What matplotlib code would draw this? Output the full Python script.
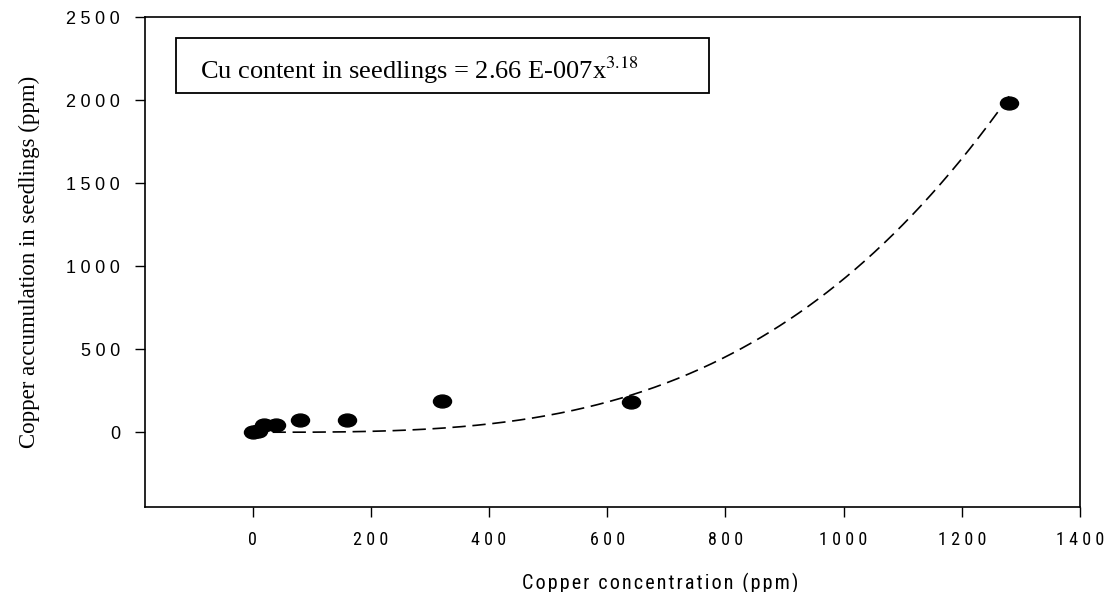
import matplotlib
matplotlib.use("Agg")
import matplotlib.pyplot as plt
import numpy as np
from matplotlib.path import Path
from matplotlib.transforms import Affine2D
from matplotlib.patches import Rectangle
from matplotlib.ticker import FuncFormatter

# Data
cu_conc = [0, 10, 20, 40, 80, 160, 320, 640, 1280]
cu_seedlings = [0, 5, 45, 45, 75, 75, 188, 182, 1980]
fit_coef = 2.66e-7
fit_exp = 3.18
x_ticks = [0, 200, 400, 600, 800, 1000, 1200, 1400]
y_ticks = [0, 500, 1000, 1500, 2000, 2500]

SP = '\u2005'   # letter-spacing (tracking) used in the original typesetting
def spaced(s, sep=SP):
    return sep.join(s)

NARROW = ['Liberation Sans Narrow', 'Roboto Condensed', 'Open Sans Condensed',
          'Liberation Sans', 'DejaVu Sans']

fig = plt.figure(figsize=(11.11, 5.92), dpi=100)
ax = fig.add_axes([145/1111, 85/592, (1080-145)/1111, (507-17)/592])

xf = np.linspace(0, max(cu_conc), 400)
yf = fit_coef * xf ** fit_exp
ax.plot(xf, yf, color='black', lw=1.2, ls=(0, (8, 4)))

ell = Path.unit_circle().transformed(Affine2D().scale(1.4, 1.0))
ax.plot(cu_conc, cu_seedlings, ls='none', marker=ell, markersize=13,
        color='black', zorder=3)

ax.set_xlim(-182, 1400)
ax.set_ylim(-450, 2500)
ax.set_xticks(x_ticks)
ax.set_yticks(y_ticks)
fmt = FuncFormatter(lambda v, p: spaced(str(int(round(v)))))
ax.xaxis.set_major_formatter(fmt)
ax.yaxis.set_major_formatter(fmt)
ax.tick_params(direction='out', length=7, width=1)
ax.tick_params(axis='y', pad=11)
ax.tick_params(axis='x', pad=10)
for lab in ax.get_xticklabels():
    lab.set_family(NARROW)
    lab.set_fontsize(13)
for lab in ax.get_yticklabels():
    lab.set_family(['Liberation Sans', 'DejaVu Sans'])
    lab.set_fontsize(13)
for s in ax.spines.values():
    s.set_linewidth(1.2)

xl = 'Copper concentration (ppm)'
hs = '\u200a'
ax.set_xlabel((hs + ' ' + hs).join(spaced(w, hs) for w in xl.split(' ')),
              family=NARROW, fontsize=14.5)
ax.xaxis.set_label_coords((660-145)/935, -0.135)
ax.set_ylabel('Copper accumulation in seedlings (ppm)', family=['Liberation Serif'],
              fontsize=16.5)
ax.yaxis.set_label_coords((40-145)/935, 0.5)

fig.patches.append(Rectangle((176/1111, (592-93)/592), 533/1111, 55/592,
                             transform=fig.transFigure, fill=False,
                             edgecolor='black', lw=1.3))
fig.text(200/1111, (592-79)/592,
         'Cu content in seedlings = 2.66 E-007x$^{3.18}$',
         family='Liberation Serif', fontsize=19, va='baseline', ha='left',
         math_fontfamily='stix')

fig.savefig('out.png', dpi=100)
